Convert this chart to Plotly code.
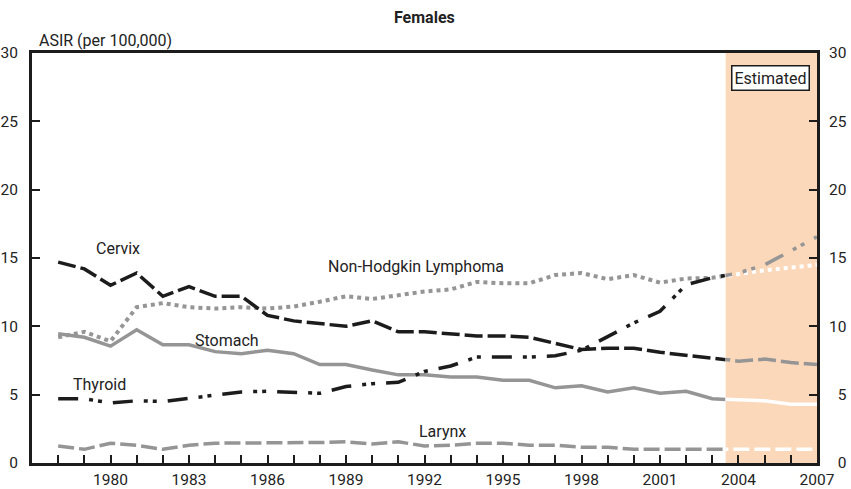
import plotly.graph_objects as go

# ---------------- data ----------------
years = list(range(1978, 2008))
cervix = [14.7, 14.2, 13.0, 13.9, 12.2, 12.9, 12.2, 12.2, 10.8, 10.4, 10.2, 10.0, 10.4, 9.6, 9.6,
          9.45, 9.3, 9.3, 9.2, 8.75, 8.3, 8.4, 8.4, 8.1, 7.9, 7.7, 7.45, 7.6, 7.35, 7.2]
nhl = [9.2, 9.6, 8.9, 11.4, 11.7, 11.4, 11.3, 11.4, 11.3, 11.45, 11.8, 12.2, 12.0, 12.3, 12.55,
       12.7, 13.25, 13.15, 13.15, 13.75, 13.9, 13.45, 13.75, 13.2, 13.5, 13.55, 13.85, 14.1, 14.3, 14.5]
thyroid = [4.7, 4.7, 4.4, 4.55, 4.5, 4.75, 4.95, 5.2, 5.25, 5.2, 5.1, 5.6, 5.8, 5.9, 6.7,
           7.1, 7.75, 7.75, 7.75, 7.85, 8.25, 9.25, 10.25, 11.1, 13.05, 13.55, 13.9, 14.5, 15.5, 16.55]
stomach = [9.45, 9.2, 8.55, 9.75, 8.65, 8.65, 8.15, 8.0, 8.25, 8.0, 7.2, 7.2, 6.8, 6.45, 6.45,
           6.3, 6.3, 6.05, 6.05, 5.5, 5.65, 5.2, 5.5, 5.1, 5.25, 4.7, 4.6, 4.55, 4.3, 4.3]
larynx = [1.25, 1.0, 1.45, 1.3, 1.0, 1.3, 1.45, 1.45, 1.45, 1.45, 1.5, 1.55, 1.4, 1.55, 1.25,
          1.3, 1.45, 1.45, 1.3, 1.3, 1.15, 1.15, 1.0, 1.0, 1.0, 1.0, 1.0, 1.0, 1.0, 1.0]

series_names = ["Larynx", "Stomach", "Non-Hodgkin Lymphoma", "Cervix", "Thyroid"]
series_values = [larynx, stomach, nhl, cervix, thyroid]

x_label_years = [1980, 1983, 1986, 1989, 1992, 1995, 1998, 2001, 2004, 2007]
y_ticks = [0, 5, 10, 15, 20, 25, 30]

est_start = 2003.5
x_min, x_max = 1977, 2007

# ---------------- styles ----------------
BLACK = "#1c1c1c"
GRAY = "#959595"
WHITE = "#ffffff"
PEACH = "#fcd8ba"
TEXT = "#222222"
FONT = "Roboto, Liberation Sans, sans-serif"

styles = {
    "Larynx": dict(obs=GRAY, est=WHITE, dash="16px,5px", width=3.5),
    "Stomach": dict(obs=GRAY, est=WHITE, dash="solid", width=3.5),
    "Non-Hodgkin Lymphoma": dict(obs=GRAY, est=WHITE, dash="4px,4px", width=4),
    "Cervix": dict(obs=BLACK, est=GRAY, dash="18px,5px", width=3.5),
    "Thyroid": dict(obs=BLACK, est=GRAY, dash="20px,11px,4px,5px,4px,11px", width=3.5),
}

n_obs = years.index(2004) + 1      # observed trace runs through 2004 (clipped at 2003.5)
i_est = years.index(2003)          # estimated trace starts at 2003 (clipped at 2003.5)

fig = go.Figure()
for name, vals in zip(series_names, series_values):
    st = styles[name]
    fig.add_trace(go.Scatter(x=years[:n_obs], y=vals[:n_obs], mode="lines",
                             line=dict(color=st["obs"], width=st["width"], dash=st["dash"]),
                             xaxis="x", yaxis="y", hoverinfo="skip", showlegend=False))
    fig.add_trace(go.Scatter(x=years[i_est:], y=vals[i_est:], mode="lines",
                             line=dict(color=st["est"], width=st["width"], dash=st["dash"]),
                             xaxis="x2", yaxis="y", hoverinfo="skip", showlegend=False))

# invisible trace to keep right-hand axis alive
fig.add_trace(go.Scatter(x=[est_start], y=[0], mode="markers", marker=dict(opacity=0),
                         xaxis="x2", yaxis="y2", hoverinfo="skip", showlegend=False))

split = (est_start - x_min) / (x_max - x_min)

def xticks(lo, hi):
    vals = [y for y in years if lo <= y <= hi]
    txt = [str(y) if y in x_label_years else "" for y in vals]
    return vals, txt

xv1, xt1 = xticks(x_min, est_start)
xv2, xt2 = xticks(est_start, x_max)

axis_common = dict(showline=True, linecolor=BLACK, linewidth=3, showgrid=False, zeroline=False,
                   automargin=False,
                   ticks="inside", ticklen=8, tickwidth=2, tickcolor=BLACK,
                   tickfont=dict(size=15.5, color=TEXT, family=FONT))

fig.update_layout(
    template="none",
    width=851, height=489,
    margin=dict(l=32, r=34, t=53, b=26),
    paper_bgcolor="white", plot_bgcolor="white",
    font=dict(family=FONT, size=16, color=TEXT),
    xaxis=dict(domain=[0, split], range=[x_min, est_start], anchor="y",
               tickmode="array", tickvals=xv1, ticktext=xt1, mirror=True, **axis_common),
    xaxis2=dict(domain=[split, 1], range=[est_start, x_max], anchor="y",
                tickmode="array", tickvals=xv2, ticktext=xt2, mirror=True, **axis_common),
    yaxis=dict(range=[0, 30], anchor="x", tickmode="array", tickvals=y_ticks,
               ticktext=[str(v) for v in y_ticks], ticklabelstandoff=8, **axis_common),
    yaxis2=dict(range=[0, 30], anchor="x2", overlaying="y", side="right", tickmode="array",
                tickvals=y_ticks,
                ticktext=[("\u2007" + str(v)) if v < 10 else str(v) for v in y_ticks],
                ticklabelstandoff=6, **axis_common),
    shapes=[dict(type="rect", xref="x2", yref="paper", x0=est_start, x1=x_max, y0=0, y1=1,
                 fillcolor=PEACH, line=dict(width=0), layer="below")],
    annotations=[
        dict(text="<b>Females</b>", xref="paper", yref="paper", x=0.5, y=1.0, yshift=36,
             showarrow=False, font=dict(size=16, color=TEXT, family=FONT),
             xanchor="center", yanchor="middle"),
        dict(text="ASIR (per 100,000)", xref="paper", yref="paper", x=0, xshift=5, y=1, yshift=13,
             showarrow=False, xanchor="left", yanchor="middle",
             font=dict(size=16, color=TEXT, family=FONT)),
        dict(text="Estimated", xref="x2", yref="y", x=2005.21, y=28.2, showarrow=False,
             bgcolor="white", bordercolor=BLACK, borderwidth=1.5, borderpad=2,
             font=dict(size=16, color=TEXT, family=FONT)),
        dict(text="Cervix", xref="x", yref="y", x=1980.27, y=15.73, showarrow=False),
        dict(text="Thyroid", xref="x", yref="y", x=1979.57, y=5.73, showarrow=False),
        dict(text="Stomach", xref="x", yref="y", x=1984.47, y=8.97, showarrow=False),
        dict(text="Non-Hodgkin Lymphoma", xref="x", yref="y", x=1991.66, y=14.38, showarrow=False),
        dict(text="Larynx", xref="x", yref="y", x=1992.68, y=2.31, showarrow=False),
    ],
)

fig.write_html("out.html", config={"displayModeBar": False},
               post_script="document.body.style.margin='0';document.body.style.overflow='hidden';")
